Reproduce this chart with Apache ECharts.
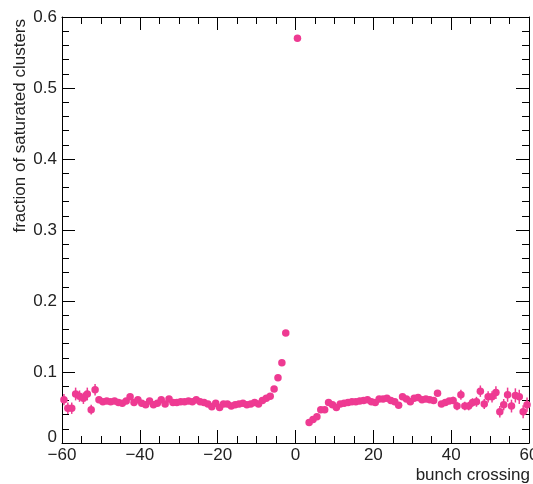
<!DOCTYPE html>
<html>
<head>
<meta charset="utf-8">
<script src="https://cdn.jsdelivr.net/npm/echarts@6/dist/echarts.min.js"></script>
<style>
html,body{margin:0;padding:0;background:#fff;}
#chart{width:533px;height:484px;}
</style>
</head>
<body>
<div id="chart"></div>
<script>
// Bin centres of the bunch-crossing histogram (-59.5 ... 59.5)
var binCenters = [
 -59.5,-58.5,-57.5,-56.5,-55.5,-54.5,-53.5,-52.5,-51.5,-50.5,
 -49.5,-48.5,-47.5,-46.5,-45.5,-44.5,-43.5,-42.5,-41.5,-40.5,
 -39.5,-38.5,-37.5,-36.5,-35.5,-34.5,-33.5,-32.5,-31.5,-30.5,
 -29.5,-28.5,-27.5,-26.5,-25.5,-24.5,-23.5,-22.5,-21.5,-20.5,
 -19.5,-18.5,-17.5,-16.5,-15.5,-14.5,-13.5,-12.5,-11.5,-10.5,
 -9.5,-8.5,-7.5,-6.5,-5.5,-4.5,-3.5,-2.5,-1.5,-0.5,
 0.5,1.5,2.5,3.5,4.5,5.5,6.5,7.5,8.5,9.5,
 10.5,11.5,12.5,13.5,14.5,15.5,16.5,17.5,18.5,19.5,
 20.5,21.5,22.5,23.5,24.5,25.5,26.5,27.5,28.5,29.5,
 30.5,31.5,32.5,33.5,34.5,35.5,36.5,37.5,38.5,39.5,
 40.5,41.5,42.5,43.5,44.5,45.5,46.5,47.5,48.5,49.5,
 50.5,51.5,52.5,53.5,54.5,55.5,56.5,57.5,58.5,59.5
];

// Fraction of saturated clusters (null = empty bin)
var fractionValues = [
 0.061,0.049,0.049,0.069,0.066,0.063,0.069,0.047,0.075,0.061,
 0.058,0.059,0.058,0.059,0.057,0.056,0.059,0.065,0.057,0.061,
 0.056,0.054,0.059,0.054,0.056,0.061,0.055,0.062,0.057,0.057,
 0.058,0.058,0.059,0.058,0.061,0.058,0.057,0.055,0.051,0.056,
 0.050,0.055,0.055,0.052,0.054,0.055,0.056,0.054,0.055,0.057,
 0.055,0.060,0.063,0.066,0.076,0.092,0.113,0.155,null,null,
 0.570,null,null,0.029,0.033,0.037,0.047,0.047,0.057,0.054,
 0.050,0.055,0.056,0.057,0.058,0.058,0.059,0.060,0.061,0.058,
 0.057,0.062,0.062,0.063,0.060,0.058,0.053,0.065,0.062,0.058,
 0.063,0.064,0.061,0.062,0.061,0.060,0.070,0.055,0.057,0.059,
 0.060,0.052,0.068,0.052,0.052,0.057,0.058,0.073,0.055,0.065,
 0.065,0.071,0.044,0.054,0.068,0.052,0.067,0.065,0.044,0.054
];

// Statistical uncertainty of each bin
var fractionErrors = [
 0.008,0.008,0.008,0.009,0.008,0.008,0.009,0.007,0.008,0.004,
 0.003,0.003,0.003,0.003,0.003,0.002,0.002,0.002,0.002,0.002,
 0.002,0.002,0.002,0.002,0.002,0.002,0.002,0.002,0.002,0.002,
 0.002,0.002,0.002,0.002,0.002,0.002,0.002,0.002,0.002,0.002,
 0.002,0.002,0.002,0.002,0.002,0.002,0.002,0.002,0.002,0.002,
 0.002,0.002,0.002,0.002,0.002,0.002,0.002,0.002,null,null,
 0.002,null,null,0.002,0.002,0.002,0.002,0.002,0.002,0.002,
 0.002,0.002,0.002,0.002,0.002,0.002,0.002,0.002,0.002,0.002,
 0.002,0.002,0.002,0.002,0.002,0.002,0.002,0.002,0.002,0.002,
 0.002,0.002,0.002,0.002,0.002,0.003,0.004,0.004,0.004,0.004,
 0.005,0.006,0.007,0.006,0.006,0.006,0.007,0.008,0.007,0.008,
 0.008,0.009,0.008,0.008,0.010,0.009,0.010,0.010,0.009,0.010
];

var xTicks = [-60, -40, -20, 0, 20, 40, 60];
var yTicks = [0, 0.1, 0.2, 0.3, 0.4, 0.5, 0.6];

var COLOR = '#ee3a92';
var FONT = '"Liberation Sans", Arial, Helvetica, sans-serif';
var TEXT = '#222';

var pts = [], bars = [];
for (var i = 0; i < binCenters.length; i++) {
  if (fractionValues[i] === null) continue;
  pts.push([binCenters[i], fractionValues[i]]);
  bars.push([binCenters[i], fractionValues[i], fractionErrors[i]]);
}

function axisCommon(showLabels, pos, isX) {
  return {
    type: 'value',
    position: pos,
    min: isX ? xTicks[0] : yTicks[0],
    max: isX ? xTicks[xTicks.length - 1] : yTicks[yTicks.length - 1],
    interval: isX ? 20 : 0.1,
    axisLine: { show: true, onZero: false, lineStyle: { color: '#000', width: 1 } },
    axisTick: { show: true, inside: true, length: 13, lineStyle: { color: '#000', width: 1 } },
    minorTick: { show: true, splitNumber: isX ? 4 : 5, length: 7, lineStyle: { color: '#000', width: 1 } },
    splitLine: { show: false },
    minorSplitLine: { show: false },
    axisLabel: showLabels ? (isX ? {
      show: true, margin: 4, fontSize: 17, color: TEXT, fontFamily: FONT,
      hideOverlap: false,
      formatter: function (v) { return String(v).replace('-', '\u2212'); }
    } : {
      show: true, margin: 5, fontSize: 17, color: TEXT, fontFamily: FONT,
      hideOverlap: false,
      formatter: function (v) { return v === 0 ? '{z|0}' : v.toFixed(1); },
      rich: { z: { fontSize: 17, color: TEXT, fontFamily: FONT, padding: [0, 0, 12, 0] } }
    }) : { show: false }
  };
}

var chart = echarts.init(document.getElementById('chart'), null, { renderer: 'canvas' });
chart.setOption({
  animation: false,
  backgroundColor: '#fff',
  grid: { left: 62, right: 4, top: 17, bottom: 41, containLabel: false, outerBoundsMode: 'none' },
  xAxis: [axisCommon(true, 'bottom', true), axisCommon(false, 'top', true)],
  yAxis: [axisCommon(true, 'left', false), axisCommon(false, 'right', false)],
  graphic: [
    { type: 'text', x: 530, y: 475,
      style: { text: 'bunch crossing', fontSize: 17, fontFamily: FONT, fill: TEXT, textAlign: 'right', textVerticalAlign: 'middle' } },
    { type: 'text', x: 20, y: 19, rotation: Math.PI / 2,
      style: { text: 'fraction of saturated clusters', fontSize: 17, fontFamily: FONT, fill: TEXT, textAlign: 'right', textVerticalAlign: 'middle' } }
  ],
  series: [
    {
      type: 'custom',
      xAxisIndex: 0, yAxisIndex: 0,
      data: bars,
      renderItem: function (params, api) {
        var x = api.value(0), y = api.value(1), e = api.value(2);
        var p1 = api.coord([x, y - e]), p2 = api.coord([x, y + e]);
        return { type: 'line', shape: { x1: p1[0], y1: p1[1], x2: p2[0], y2: p2[1] },
                 style: { stroke: COLOR, lineWidth: 1.5 } };
      },
      z: 2
    },
    {
      type: 'scatter',
      xAxisIndex: 0, yAxisIndex: 0,
      data: pts,
      symbol: 'circle',
      symbolSize: 7.5,
      itemStyle: { color: COLOR, opacity: 1 },
      z: 3
    }
  ]
});
</script>
</body>
</html>
